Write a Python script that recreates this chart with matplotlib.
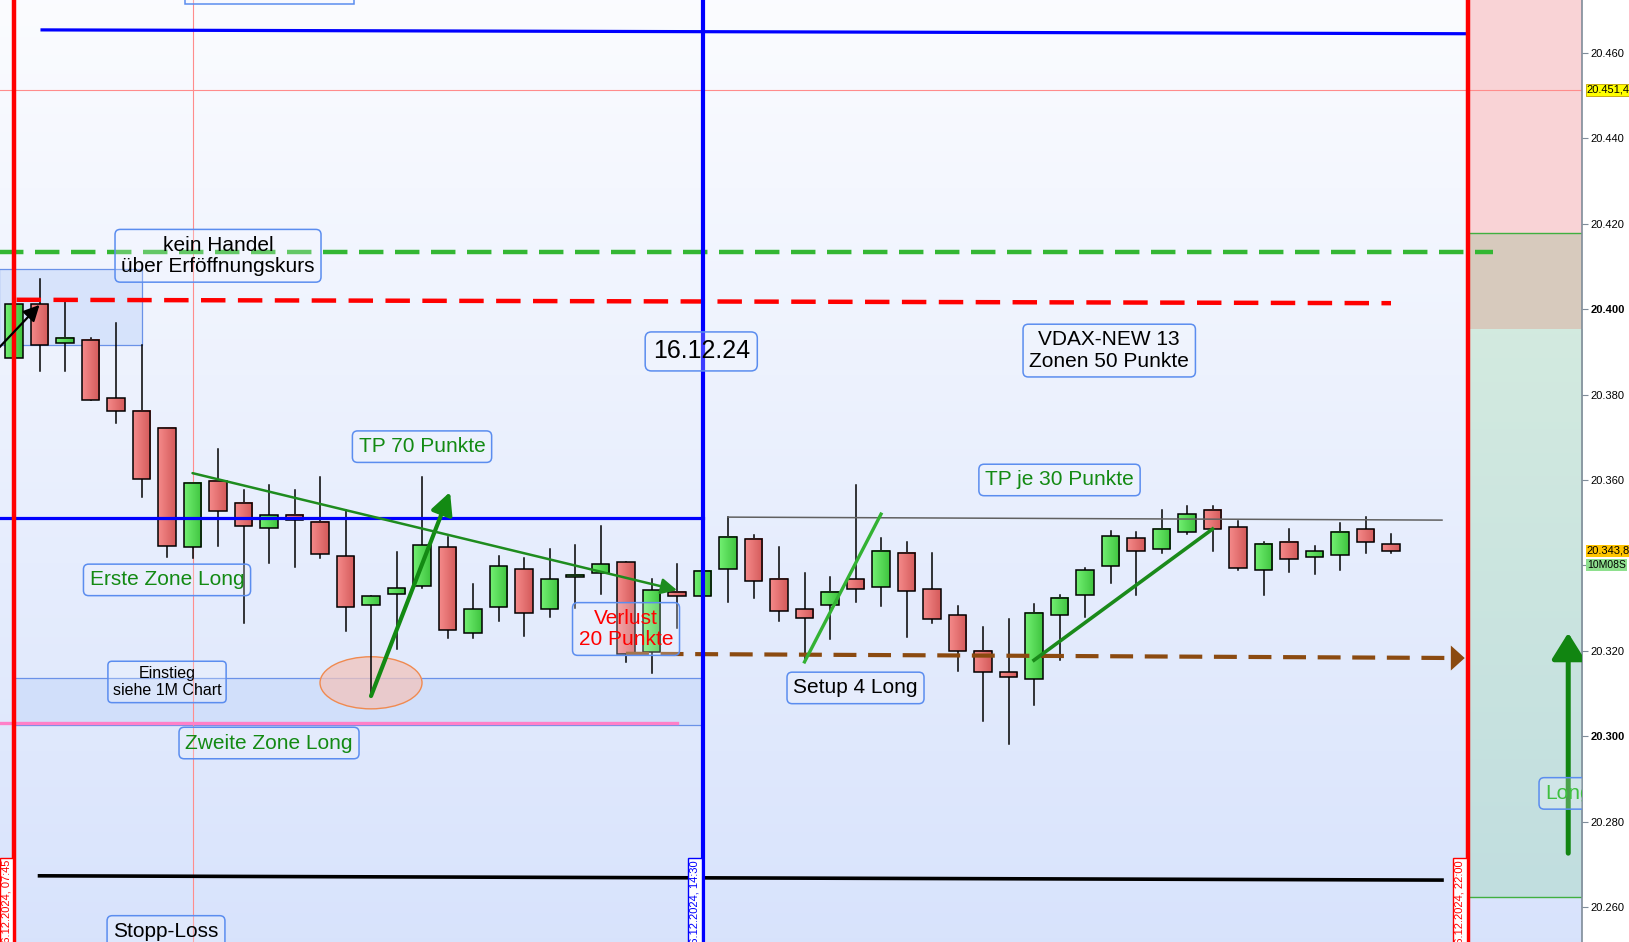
import numpy as np
import matplotlib.pyplot as plt
from matplotlib.patches import Rectangle, Ellipse, FancyArrowPatch
from matplotlib.colors import LinearSegmentedColormap
import matplotlib.transforms as mtransforms

plt.rcParams['font.family'] = ['Liberation Sans', 'DejaVu Sans']

# 15 minute candles, 16.12.2024 from 07:45
opens = [20388.6, 20401.2, 20392.1, 20392.8, 20379.2, 20376.2, 20372.2, 20344.3, 20359.8, 20354.6,
         20348.8, 20351.8, 20350.2, 20342.2, 20330.7, 20333.3, 20335.2, 20344.3, 20324.2, 20330.3,
         20339.2, 20329.8, 20337.3, 20338.2, 20340.8, 20319.7, 20333.8, 20332.8, 20339.2, 20346.2,
         20336.8, 20329.8, 20330.7, 20336.8, 20334.9, 20342.9, 20334.5, 20328.4, 20320.0, 20315.0,
         20313.4, 20328.4, 20333.1, 20339.9, 20346.4, 20343.8, 20347.8, 20353.0, 20349.0, 20338.9,
         20345.5, 20342.0, 20342.4, 20348.5, 20345.0]
highs = [20402.2, 20407.1, 20401.7, 20393.3, 20396.8, 20391.6, 20372.2, 20359.3, 20367.3, 20357.7,
         20358.8, 20357.7, 20360.7, 20353.0, 20332.8, 20343.1, 20360.7, 20346.7, 20335.6, 20342.2,
         20341.7, 20343.8, 20344.8, 20349.2, 20340.8, 20336.8, 20340.3, 20338.7, 20351.3, 20347.1,
         20344.3, 20338.2, 20337.3, 20358.8, 20346.4, 20345.5, 20342.9, 20330.5, 20325.6, 20327.5,
         20331.0, 20333.1, 20339.4, 20348.1, 20347.8, 20353.0, 20353.9, 20353.9, 20350.4, 20345.5,
         20348.5, 20344.5, 20349.9, 20351.3, 20347.4]
lows = [20388.2, 20385.5, 20385.5, 20378.7, 20373.3, 20356.0, 20342.0, 20341.7, 20344.5, 20326.5,
        20340.6, 20339.6, 20341.7, 20324.6, 20309.4, 20320.4, 20334.7, 20323.0, 20323.0, 20327.0,
        20323.5, 20327.9, 20330.0, 20333.3, 20317.4, 20314.8, 20325.3, 20332.8, 20331.4, 20332.4,
        20327.0, 20317.4, 20322.8, 20331.4, 20330.5, 20323.2, 20326.5, 20315.3, 20303.6, 20298.2,
        20307.3, 20317.9, 20327.9, 20335.9, 20333.1, 20342.9, 20347.4, 20343.4, 20338.9, 20333.1,
        20338.5, 20338.0, 20338.9, 20342.9, 20342.9]
closes = [20401.2, 20391.6, 20393.3, 20378.7, 20376.2, 20360.2, 20344.5, 20359.3, 20352.7, 20349.2,
          20351.8, 20350.6, 20342.7, 20330.3, 20332.8, 20334.7, 20344.8, 20324.9, 20329.8, 20339.9,
          20328.9, 20336.8, 20337.8, 20340.3, 20319.3, 20334.2, 20332.8, 20338.7, 20346.7, 20336.3,
          20329.3, 20327.7, 20333.8, 20334.5, 20343.4, 20334.0, 20327.5, 20320.0, 20315.0, 20313.9,
          20328.9, 20332.4, 20338.9, 20346.9, 20343.4, 20348.5, 20352.0, 20348.5, 20339.4, 20345.0,
          20341.5, 20343.4, 20347.8, 20345.5, 20343.4]

price_ticks = [20260, 20280, 20300, 20320, 20340, 20360, 20380, 20400, 20420, 20440, 20460]
bold_ticks = [20300, 20400]
hidden_ticks = [20340]

# session markers (candle index)
session_start = 0
session_mark = 27
session_end = 57
fib_bar = 7
fib_level = 20451.4
date_labels = ['16.12.2024, 07:45', '16.12.2024, 14:30', '16.12.2024, 22:00']

# drawn levels: ([x0, x1], [y0, y1])
top_blue = ([1.1, 57.0], [20465.4, 20464.5])
green_dash = ([-0.6, 58.0], [20413.3, 20413.3])
red_dash = ([0.1, 54.0], [20402.2, 20401.4])
blue_mid = ([-0.6, 27.0], [20351.1, 20351.1])
gray_high = ([28.0, 56.0], [20351.3, 20350.6])
brown_dash = ([24.0, 56.7], [20319.3, 20318.3])
stop_line = ([1.0, 56.0], [20267.3, 20266.3])
pink_line = ([-0.6, 26.0], [20303.1, 20303.1])

# zones: (x0, x1, y0, y1)
zone_top = (-0.6, 5.0, 20391.6, 20409.4)
zone_low = (0.0, 27.0, 20302.6, 20313.6)
right_red = 20417.8
right_mid = 20395.1
right_green = 20262.3

# arrows / trend lines
tp70_arrow = ([14.0, 17.1], [20309.4, 20357.2])
down_trend = ([7.0, 26.0], [20361.6, 20334.2])
entry_arrow = ([-0.6, 1.0], [20390.9, 20401.0])
setup_line = ([31.0, 34.0], [20317.4, 20352.0])
up_trend = ([40.0, 47.0], [20317.8, 20348.5])
long_arrow = ([60.95, 60.95], [20272.6, 20324.2])

# text boxes: text, x, y, color, size
labels = [
    ('kein Handel\nüber Erföffnungskurs', 8.0, 20412.5, 'black', 15),
    ('TP 70 Punkte', 16.0, 20367.8, '#138a13', 15),
    ('16.12.24', 26.95, 20390.1, 'black', 18),
    ('VDAX-NEW 13\nZonen 50 Punkte', 42.95, 20390.3, 'black', 15),
    ('TP je 30 Punkte', 41.0, 20360.0, '#138a13', 15),
    ('Erste Zone Long', 6.0, 20336.6, '#138a13', 15),
    ('Einstieg\nsiehe 1M Chart', 6.0, 20312.7, 'black', 11.5),
    ('Zweite Zone Long', 10.0, 20298.4, '#138a13', 15),
    ('Verlust\n20 Punkte', 24.0, 20325.1, 'red', 15),
    ('Setup 4 Long', 33.0, 20311.3, 'black', 15),
]

x_lo, x_hi = -0.55, 61.49
y_lo, y_hi = 20251.8, 20472.4

fig = plt.figure(figsize=(16.29, 9.42), dpi=100, facecolor='white')
ax = fig.add_axes([0, 0, 1582 / 1629, 1])

# background gradient
grad = np.linspace(0, 1, 256).reshape(-1, 1)
top_c = np.array([0.984, 0.988, 1.0])
bot_c = np.array([0.847, 0.890, 0.988])
bg = top_c + (bot_c - top_c) * grad
ax.imshow(bg.reshape(256, 1, 3), extent=[x_lo, x_hi, y_lo, y_hi], aspect='auto', zorder=0)

# right side zones after session end
ax.add_patch(Rectangle((session_end, right_red), x_hi - session_end, y_hi - right_red,
                       color='#f9d3d6', zorder=0.5, lw=0))
ax.add_patch(Rectangle((session_end, right_mid), x_hi - session_end, right_red - right_mid,
                       color='#d7cabd', zorder=0.5, lw=0))
teal_top = np.array([0.827, 0.918, 0.875])
teal_bot = np.array([0.757, 0.871, 0.875])
teal = teal_top + (teal_bot - teal_top) * grad
ax.imshow(teal.reshape(256, 1, 3), extent=[session_end, x_hi, right_green, right_mid],
          aspect='auto', zorder=0.5)
ax.plot([session_end, x_hi], [right_red, right_red], color='#40b040', lw=1, zorder=0.6)
ax.plot([session_end, x_hi], [right_green, right_green], color='#40b040', lw=1, zorder=0.6)

# shaded zones
for z in [zone_top, zone_low]:
    ax.add_patch(Rectangle((z[0], z[2]), z[1] - z[0], z[3] - z[2], facecolor=(0.78, 0.85, 0.98, 0.6),
                           edgecolor='#6a92e8', lw=0.9, zorder=1))

# thin fib lines
ax.axhline(fib_level, color='#ff8c8c', lw=0.8, zorder=1.2)
ax.axvline(fib_bar, color='#ff8c8c', lw=0.8, zorder=1.2)

ax.add_patch(Ellipse((14.0, 20312.5), 4.0, 12.2, facecolor=(0.95, 0.77, 0.74, 0.75),
                     edgecolor='#f08a50', lw=1, zorder=1.3))

# candles with a left-to-right shading like the platform
up_cmap = LinearSegmentedColormap.from_list('up', ['#72f072', '#3fc43f'])
dn_cmap = LinearSegmentedColormap.from_list('dn', ['#f58a8a', '#d45a5a'])
shade = np.linspace(0, 1, 32).reshape(1, -1)
w = 0.7
for i in range(len(opens)):
    o, h, l, c = opens[i], highs[i], lows[i], closes[i]
    ax.plot([i, i], [l, h], color='black', lw=1.1, zorder=2)
    lo, hi = min(o, c), max(o, c)
    if hi - lo < 0.4:
        hi = lo + 0.4
    ax.imshow(shade, cmap=up_cmap if c >= o else dn_cmap, extent=[i - w / 2, i + w / 2, lo, hi],
              aspect='auto', zorder=2.05)
    ax.add_patch(Rectangle((i - w / 2, lo), w, hi - lo, facecolor='none',
                           edgecolor='black', lw=1.1, zorder=2.1))

# horizontal levels
ax.plot(*top_blue, color='#0000ff', lw=2.3, zorder=3)
ax.plot(*blue_mid, color='#0000ff', lw=2.3, zorder=3)
ax.plot(*gray_high, color='#606060', lw=1.1, zorder=3)
ax.plot([gray_high[0][0]] * 2, [highs[28], gray_high[1][0]], color='#606060', lw=1.1, zorder=3)
ax.plot(*stop_line, color='black', lw=2.6, zorder=3)
ax.plot(*pink_line, color='#ff80c8', lw=2.4, zorder=3)
ax.plot(*green_dash, color='#33b733', lw=3.2, ls=(0, (5.5, 2.6)), zorder=3)
ax.plot(*red_dash, color='#ff0000', lw=3.2, ls=(0, (5.5, 2.8)), zorder=3)
ax.plot(*brown_dash, color='#8b4a10', lw=3.0, ls=(0, (5.5, 2.8)), zorder=3)
ax.add_patch(FancyArrowPatch((brown_dash[0][1] - 0.6, brown_dash[1][1]), (brown_dash[0][1] + 0.3, brown_dash[1][1]),
                             arrowstyle='-|>,head_length=0.5,head_width=0.45', mutation_scale=20,
                             color='#8b4a10', lw=0, zorder=3))

# session vertical lines
ax.axvline(session_start, color='#ff0000', lw=3.2, zorder=3.5)
ax.axvline(session_end, color='#ff0000', lw=3.2, zorder=3.5)
ax.axvline(session_mark, color='#0000ff', lw=3.0, zorder=3.5)

# trend lines and arrows
def arrow(seg, color, lw, ms, style='-|>,head_length=0.6,head_width=0.3'):
    ax.add_patch(FancyArrowPatch((seg[0][0], seg[1][0]), (seg[0][1], seg[1][1]),
                                 arrowstyle=style, mutation_scale=ms, color=color,
                                 lw=lw, shrinkA=0, shrinkB=0, zorder=4))

arrow(tp70_arrow, '#138a13', 3.0, 22)
arrow(down_trend, '#1e8c1e', 1.8, 16)
arrow(entry_arrow, 'black', 1.6, 16)
arrow(long_arrow, '#118511', 3.6, 20, '-|>,head_length=0.8,head_width=0.5')
ax.plot(*setup_line, color='#33b233', lw=2.4, zorder=4)
ax.plot(*up_trend, color='#1a8a1a', lw=2.6, zorder=4)

# text boxes (see-through, only the outline is solid)
box = dict(boxstyle='round,pad=0.3,rounding_size=0.25', facecolor=(0.96, 0.97, 1.0, 0.25),
           edgecolor='#5b8def', lw=1.1)
for txt, x, y, col, size in labels:
    ax.text(x, y, txt, color=col, fontsize=size, ha='center', va='center', zorder=5,
            bbox=box, linespacing=1.15)

ax.text(5.96, 20256.5, 'Stopp-Loss', color='black', fontsize=15, ha='center', va='top',
        zorder=5, bbox=box, clip_on=True)
ax.text(60.05, 20286.6, 'Long', color='#3fbf3f', fontsize=15, ha='left', va='center',
        zorder=5, bbox=box, clip_on=True)
ax.add_patch(Rectangle((6.71, 20471.5), 6.62, 10, facecolor=(0.96, 0.97, 1.0, 0.25),
                       edgecolor='#5b8def', lw=1.1, zorder=5))

# date labels at the session lines
for xd, txt, col in zip([session_start, session_mark, session_end], date_labels,
                        ['red', 'blue', 'red']):
    ax.text(xd - 0.1, 20271.0, txt, rotation=90, ha='right', va='top', fontsize=8, color=col,
            zorder=6, clip_on=True,
            bbox=dict(boxstyle='square,pad=0.15', facecolor='white', edgecolor=col, lw=1))

ax.set_xlim(x_lo, x_hi)
ax.set_ylim(y_lo, y_hi)

# price axis on the right
for s in ['top', 'left', 'bottom']:
    ax.spines[s].set_visible(False)
ax.spines['right'].set_color('#7f8c99')
ax.spines['right'].set_linewidth(1.2)
ax.set_xticks([])
ax.yaxis.tick_right()
ax.set_yticks(price_ticks)
ax.set_yticklabels(['' if t in hidden_ticks else f'{t // 1000}.{t % 1000:03d}' for t in price_ticks])
ax.tick_params(axis='y', length=4, width=0.8, color='#7f8c99', labelsize=8, pad=2)
for lab, t in zip(ax.get_yticklabels(), price_ticks):
    if t in bold_ticks:
        lab.set_fontweight('bold')

# current price markers on the axis
yt = mtransforms.blended_transform_factory(ax.transAxes, ax.transData)
ax.text(1.003, fib_level, '20.451,4', transform=yt, fontsize=8, va='center', ha='left',
        clip_on=False, bbox=dict(boxstyle='square,pad=0.1', facecolor='#ffff00', edgecolor='#c0a000', lw=0.6))
ax.text(1.003, closes[-1], '20.343,8', transform=yt, fontsize=8, va='center', ha='left',
        clip_on=False, bbox=dict(boxstyle='square,pad=0.1', facecolor='#ffc400', edgecolor='none'))
ax.text(1.003, closes[-1] - 3.4, '10M08S', transform=yt, fontsize=7.5, va='center', ha='left',
        clip_on=False, bbox=dict(boxstyle='square,pad=0.1', facecolor='#8ee08e', edgecolor='none'))

fig.savefig('out.png', dpi=100)
